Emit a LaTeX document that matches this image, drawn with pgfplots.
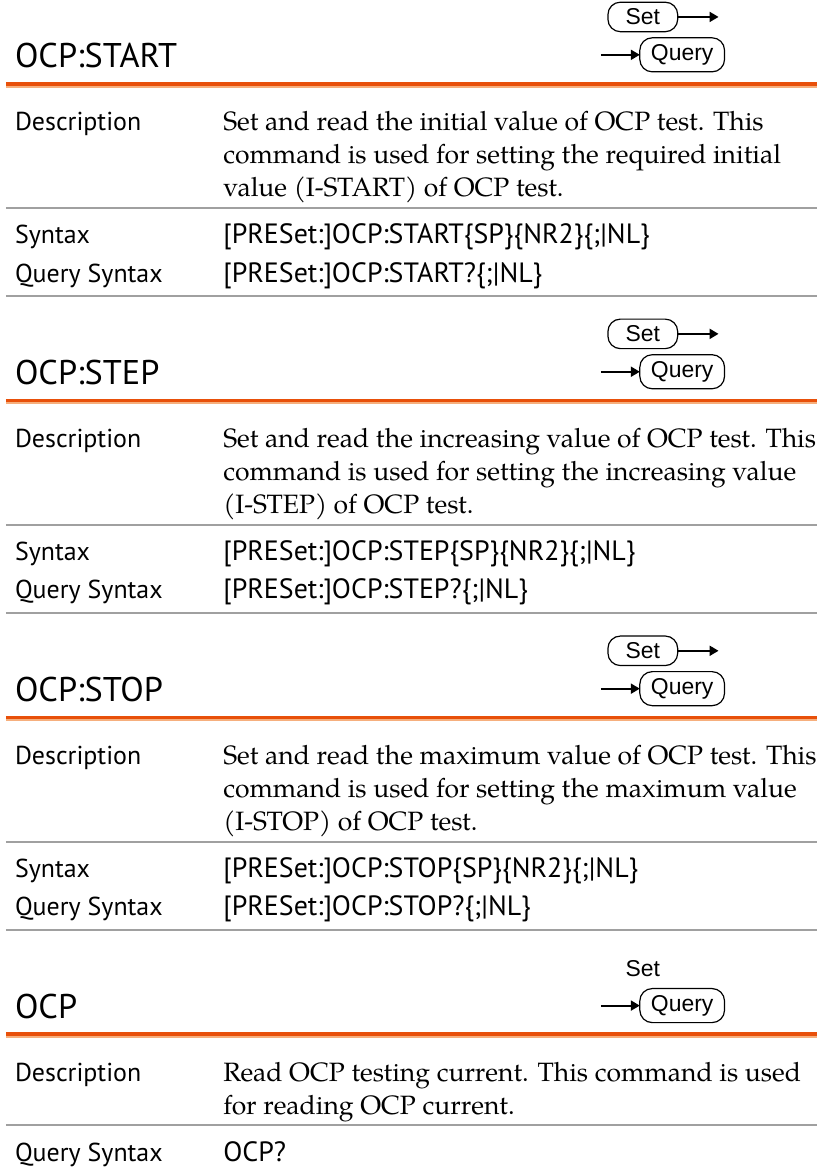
\documentclass[border=0pt]{standalone}
\usepackage{pgfplots}
\pgfplotsset{compat=1.18}
\usepackage{fontspec}
\usetikzlibrary{arrows.meta}
\setmainfont{TeX Gyre Pagella}
\newfontfamily\labfont{PT Sans}
\newfontfamily\arialfont{Liberation Sans}
\definecolor{rulor}{RGB}{232,80,10}
\definecolor{rulorl}{RGB}{246,175,125}
\definecolor{rulgr}{RGB}{160,160,160}
\newcommand\bodyf{\fontsize{13.3pt}{16pt}\selectfont}
\newcommand\labf{\labfont\fontsize{13pt}{15pt}\selectfont}
\newcommand\synf{\labfont\fontsize{14pt}{16pt}\selectfont}
\newcommand\titf{\labfont\fontsize{17.2pt}{20pt}\selectfont}
\newcommand\arf{\arialfont\fontsize{11.5pt}{13pt}\selectfont}
\begin{document}
\begin{tikzpicture}
\begin{axis}[
  scale only axis, width=410pt, height=586.5pt,
  xmin=0, xmax=820, ymin=0, ymax=1173, y dir=reverse,
  axis lines=none, ticks=none, clip=false,
  every node/.append style={inner sep=0pt, outer sep=0pt},
]
\path (rel axis cs:0,0) rectangle (rel axis cs:1,1);
% ---------- rules ----------
% section 1 (T=58)
\addplot[rulor, line width=2pt] coordinates {(6,84) (820,84)};
\addplot[rulorl, line width=1pt] coordinates {(6,86.8) (820,86.8)};
\addplot[rulgr, line width=1pt] coordinates {(6,209) (820,209)};
\addplot[rulgr, line width=1pt] coordinates {(6,297) (820,297)};
% section 2 (T=376)
\addplot[rulor, line width=2pt] coordinates {(6,402) (820,402)};
\addplot[rulorl, line width=1pt] coordinates {(6,404.8) (820,404.8)};
\addplot[rulgr, line width=1pt] coordinates {(6,527) (820,527)};
\addplot[rulgr, line width=1pt] coordinates {(6,615) (820,615)};
% section 3 (T=694)
\addplot[rulor, line width=2pt] coordinates {(6,720) (820,720)};
\addplot[rulorl, line width=1pt] coordinates {(6,722.8) (820,722.8)};
\addplot[rulgr, line width=1pt] coordinates {(6,845) (820,845)};
\addplot[rulgr, line width=1pt] coordinates {(6,933) (820,933)};
% section 4 (T=1012)
\addplot[rulor, line width=2pt] coordinates {(6,1038) (820,1038)};
\addplot[rulorl, line width=1pt] coordinates {(6,1040.8) (820,1040.8)};
\addplot[rulgr, line width=1pt] coordinates {(6,1129) (820,1129)};

% ---------- section 1 ----------
\node[anchor=base west] at (axis cs:8,68) {\titf OCP:START};
\node[draw, line width=0.6pt, rounded corners=6.25pt, minimum width=35pt, minimum height=12.5pt] at (axis cs:645,17) {\arf Set};
\draw[line width=1pt, -{Triangle[length=4.5pt,width=5pt]}] (axis cs:680,17) -- (axis cs:721,17);
\node[draw, line width=0.6pt, rounded corners=6.25pt, minimum width=42.5pt, minimum height=12.5pt] at (axis cs:684.5,55) {\arf Query};
\draw[line width=1pt, -{Triangle[length=4.5pt,width=5pt]}] (axis cs:603,55) -- (axis cs:642,55);
\node[anchor=base west] at (axis cs:8,131) {\labf Description};
\node[anchor=base west] at (axis cs:217,131) {\bodyf Set and read the initial value of OCP test. This};
\node[anchor=base west] at (axis cs:217,164) {\bodyf command is used for setting the required initial};
\node[anchor=base west] at (axis cs:217,197) {\bodyf value (I-START) of OCP test.};
\node[anchor=base west] at (axis cs:8,244) {\labf Syntax};
\node[anchor=base west] at (axis cs:217,244) {\synf [PRESet:]OCP:START\{SP\}\{NR2\}\{;|NL\}};
\node[anchor=base west] at (axis cs:8,283) {\labf Query Syntax};
\node[anchor=base west] at (axis cs:217,283) {\synf [PRESet:]OCP:START?\{;|NL\}};

% ---------- section 2 ----------
\node[anchor=base west] at (axis cs:8,386) {\titf OCP:STEP};
\node[draw, line width=0.6pt, rounded corners=6.25pt, minimum width=35pt, minimum height=12.5pt] at (axis cs:645,335) {\arf Set};
\draw[line width=1pt, -{Triangle[length=4.5pt,width=5pt]}] (axis cs:680,335) -- (axis cs:721,335);
\node[draw, line width=0.6pt, rounded corners=6.25pt, minimum width=42.5pt, minimum height=12.5pt] at (axis cs:684.5,373) {\arf Query};
\draw[line width=1pt, -{Triangle[length=4.5pt,width=5pt]}] (axis cs:603,373) -- (axis cs:642,373);
\node[anchor=base west] at (axis cs:8,449) {\labf Description};
\node[anchor=base west] at (axis cs:217,449) {\bodyf Set and read the increasing value of OCP test. This};
\node[anchor=base west] at (axis cs:217,482) {\bodyf command is used for setting the increasing value};
\node[anchor=base west] at (axis cs:217,515) {\bodyf (I-STEP) of OCP test.};
\node[anchor=base west] at (axis cs:8,562) {\labf Syntax};
\node[anchor=base west] at (axis cs:217,562) {\synf [PRESet:]OCP:STEP\{SP\}\{NR2\}\{;|NL\}};
\node[anchor=base west] at (axis cs:8,601) {\labf Query Syntax};
\node[anchor=base west] at (axis cs:217,601) {\synf [PRESet:]OCP:STEP?\{;|NL\}};

% ---------- section 3 ----------
\node[anchor=base west] at (axis cs:8,704) {\titf OCP:STOP};
\node[draw, line width=0.6pt, rounded corners=6.25pt, minimum width=35pt, minimum height=12.5pt] at (axis cs:645,653) {\arf Set};
\draw[line width=1pt, -{Triangle[length=4.5pt,width=5pt]}] (axis cs:680,653) -- (axis cs:721,653);
\node[draw, line width=0.6pt, rounded corners=6.25pt, minimum width=42.5pt, minimum height=12.5pt] at (axis cs:684.5,691) {\arf Query};
\draw[line width=1pt, -{Triangle[length=4.5pt,width=5pt]}] (axis cs:603,691) -- (axis cs:642,691);
\node[anchor=base west] at (axis cs:8,767) {\labf Description};
\node[anchor=base west] at (axis cs:217,767) {\bodyf Set and read the maximum value of OCP test. This};
\node[anchor=base west] at (axis cs:217,800) {\bodyf command is used for setting the maximum value};
\node[anchor=base west] at (axis cs:217,833) {\bodyf (I-STOP) of OCP test.};
\node[anchor=base west] at (axis cs:8,880) {\labf Syntax};
\node[anchor=base west] at (axis cs:217,880) {\synf [PRESet:]OCP:STOP\{SP\}\{NR2\}\{;|NL\}};
\node[anchor=base west] at (axis cs:8,919) {\labf Query Syntax};
\node[anchor=base west] at (axis cs:217,919) {\synf [PRESet:]OCP:STOP?\{;|NL\}};

% ---------- section 4 ----------
\node[anchor=base west] at (axis cs:8,1022) {\titf OCP};
\node at (axis cs:645,972) {\arf Set};
\node[draw, line width=0.6pt, rounded corners=6.25pt, minimum width=42.5pt, minimum height=12.5pt] at (axis cs:684.5,1009) {\arf Query};
\draw[line width=1pt, -{Triangle[length=4.5pt,width=5pt]}] (axis cs:603,1009) -- (axis cs:642,1009);
\node[anchor=base west] at (axis cs:8,1085) {\labf Description};
\node[anchor=base west] at (axis cs:217,1085) {\bodyf Read OCP testing current. This command is used};
\node[anchor=base west] at (axis cs:217,1118) {\bodyf for reading OCP current.};
\node[anchor=base west] at (axis cs:8,1165) {\labf Query Syntax};
\node[anchor=base west] at (axis cs:217,1165) {\synf OCP?};
\end{axis}
\end{tikzpicture}
\end{document}
